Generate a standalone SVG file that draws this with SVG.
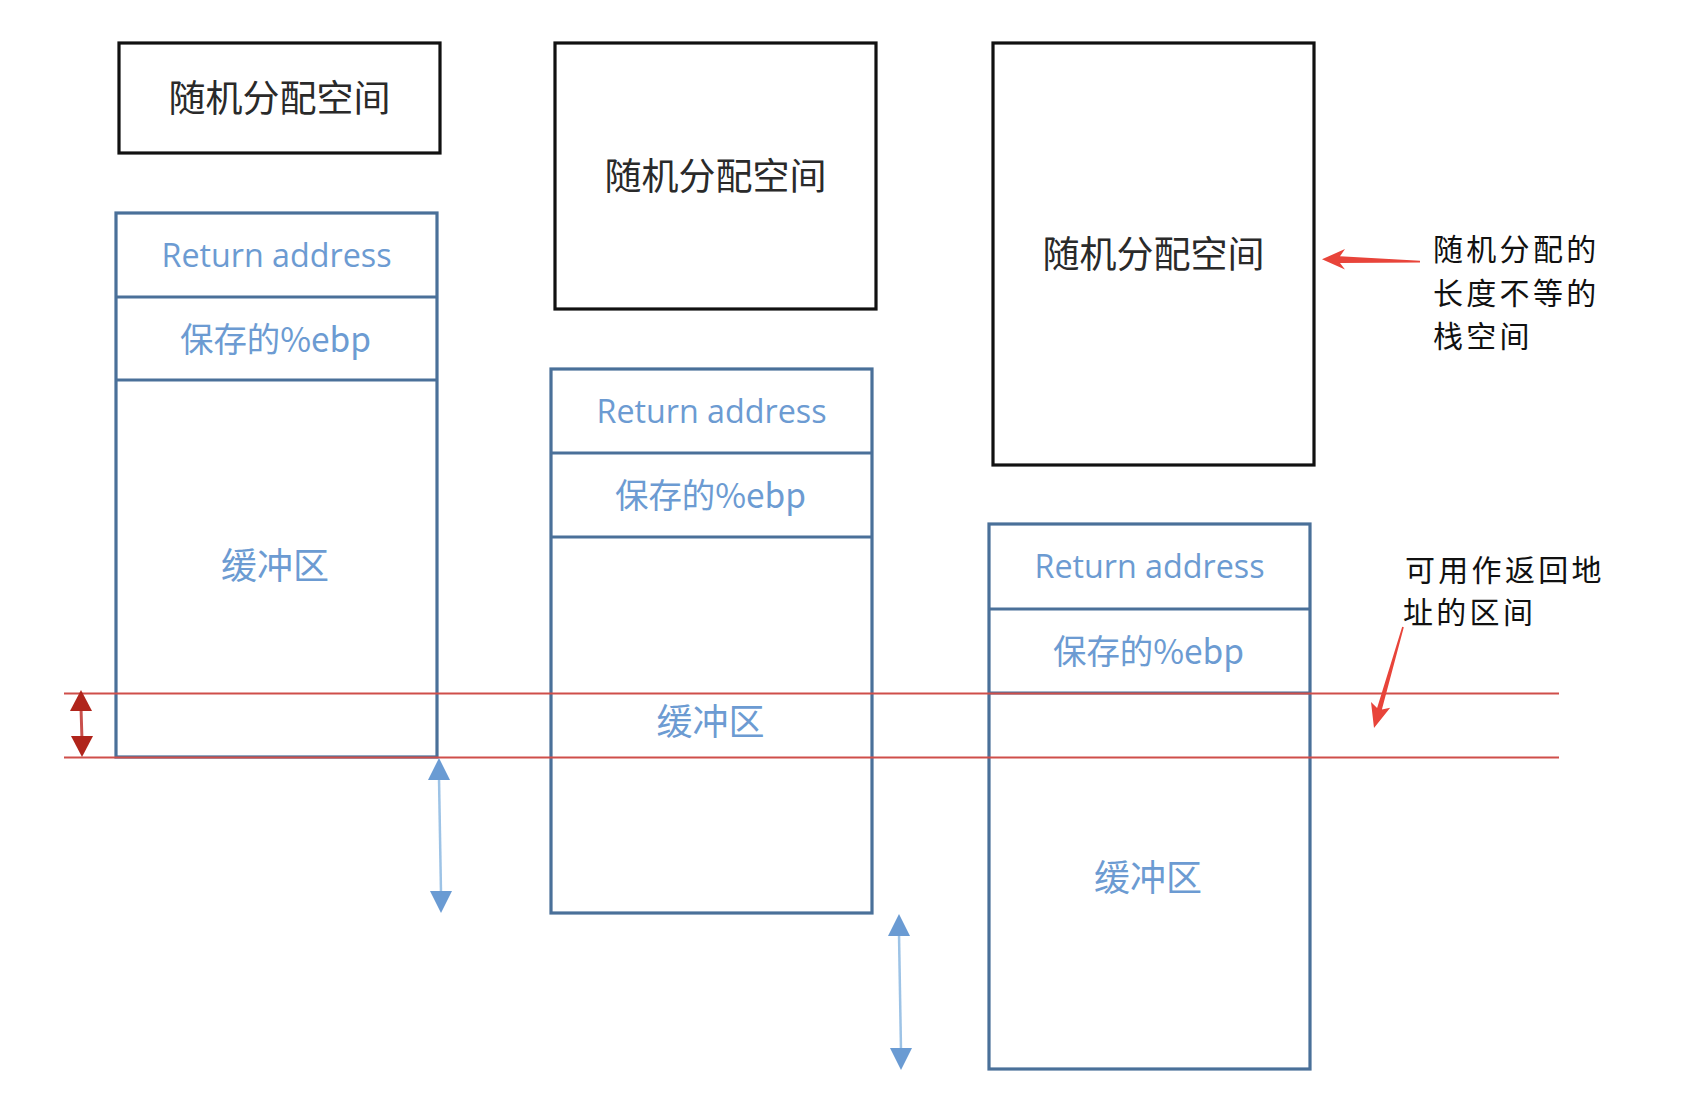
<svg xmlns="http://www.w3.org/2000/svg" width="1688" height="1118" viewBox="0 0 1688 1118">
<style>
.bk{fill:#fff;stroke:#111;stroke-width:3.2}
.bl{fill:#fff;stroke:#4A7099;stroke-width:3.2}
.div{stroke:#4A7099;stroke-width:3.2}
.lbl{font-family:"Noto Sans CJK SC","Noto Sans",sans-serif;font-size:37px;fill:#2A2A2A;text-anchor:middle}
.ra{font-family:"Open Sans","Noto Sans CJK SC",sans-serif;font-size:33px;fill:#6C9BD2;text-anchor:middle}
.eb{font-family:"Noto Sans CJK SC","Open Sans",sans-serif;font-size:34px;fill:#6C9BD2;text-anchor:middle}
.bf{font-family:"Noto Sans CJK SC",sans-serif;font-size:36px;fill:#6C9BD2;text-anchor:middle}
.ann{font-family:"Noto Sans CJK SC",sans-serif;font-size:30px;fill:#111;letter-spacing:3.3px}
.rl{stroke:#CF4F4A;stroke-width:2.2}
.bla{stroke:#9DC3E6;stroke-width:2.5}
.blh{fill:#6A9BD3}
.rda{stroke:#C9504C;stroke-width:3}
.rdh{fill:#B0241B}
.ptr{fill:#E8443A}
</style>

<g id="random-space-1">
<rect class="bk" x="119" y="43" width="321" height="110"/>
<text class="lbl" x="279.5" y="112">随机分配空间</text>
</g>
<g id="random-space-2">
<rect class="bk" x="555" y="43" width="321" height="266"/>
<text class="lbl" x="715.5" y="190">随机分配空间</text>
</g>
<g id="random-space-3">
<rect class="bk" x="993" y="43" width="321" height="422"/>
<text class="lbl" x="1153.5" y="268">随机分配空间</text>
</g>

<g id="stack-1">
<rect class="bl" x="116" y="213" width="321" height="544"/>
<line class="div" x1="116" y1="297" x2="437" y2="297"/>
<line class="div" x1="116" y1="380" x2="437" y2="380"/>
<text class="ra" x="276.5" y="267" textLength="230" lengthAdjust="spacingAndGlyphs">Return address</text>
<text class="eb" x="275.5" y="352" textLength="191" lengthAdjust="spacingAndGlyphs">保存的%ebp</text>
<text class="bf" x="275" y="579">缓冲区</text>
</g>
<g id="stack-2">
<rect class="bl" x="551" y="369" width="321" height="544"/>
<line class="div" x1="551" y1="453" x2="872" y2="453"/>
<line class="div" x1="551" y1="537" x2="872" y2="537"/>
<text class="ra" x="711.5" y="423" textLength="230" lengthAdjust="spacingAndGlyphs">Return address</text>
<text class="eb" x="710.5" y="508" textLength="191" lengthAdjust="spacingAndGlyphs">保存的%ebp</text>
<text class="bf" x="710.5" y="735">缓冲区</text>
</g>
<g id="stack-3">
<rect class="bl" x="989" y="524" width="321" height="545"/>
<line class="div" x1="989" y1="609" x2="1310" y2="609"/>
<line class="div" x1="989" y1="693" x2="1310" y2="693"/>
<text class="ra" x="1149.5" y="578" textLength="230" lengthAdjust="spacingAndGlyphs">Return address</text>
<text class="eb" x="1148.5" y="664" textLength="191" lengthAdjust="spacingAndGlyphs">保存的%ebp</text>
<text class="bf" x="1148" y="891">缓冲区</text>
</g>

<g id="note-random">
<text class="ann" x="1433" y="260">随机分配的</text>
<text class="ann" x="1433" y="304">长度不等的</text>
<text class="ann" x="1433" y="347">栈空间</text>
</g>
<g id="note-return">
<text class="ann" x="1405" y="581">可用作返回地</text>
<text class="ann" x="1403" y="623">址的区间</text>
</g>

<g id="connectors">
<line class="rl" x1="64" y1="693.5" x2="1559" y2="693.5"/>
<line class="rl" x1="64" y1="757.5" x2="1559" y2="757.5"/>
<line class="rda" x1="81" y1="708" x2="82" y2="740"/>
<polygon class="rdh" points="81,690 92,711 70,711"/>
<polygon class="rdh" points="82,757 93,736 71,736"/>
<line class="bla" x1="439" y1="778" x2="441" y2="893"/>
<polygon class="blh" points="439,758 450,780 428,780"/>
<polygon class="blh" points="441,913 452,891 430,891"/>
<line class="bla" x1="899" y1="934" x2="901" y2="1050"/>
<polygon class="blh" points="899,914 910,936 888,936"/>
<polygon class="blh" points="901,1070 912,1048 890,1048"/>
<polygon class="ptr" points="1420,260.8 1340,256.3 1345,249 1322,259.3 1345,269.5 1340,263 1420,262.4"/>
<polygon class="ptr" points="1403.8,627.2 1381.9,709.5 1390.2,707.7 1374,728 1371,702.1 1377.1,708.1 1402.2,626.8"/>
</g>
</svg>
